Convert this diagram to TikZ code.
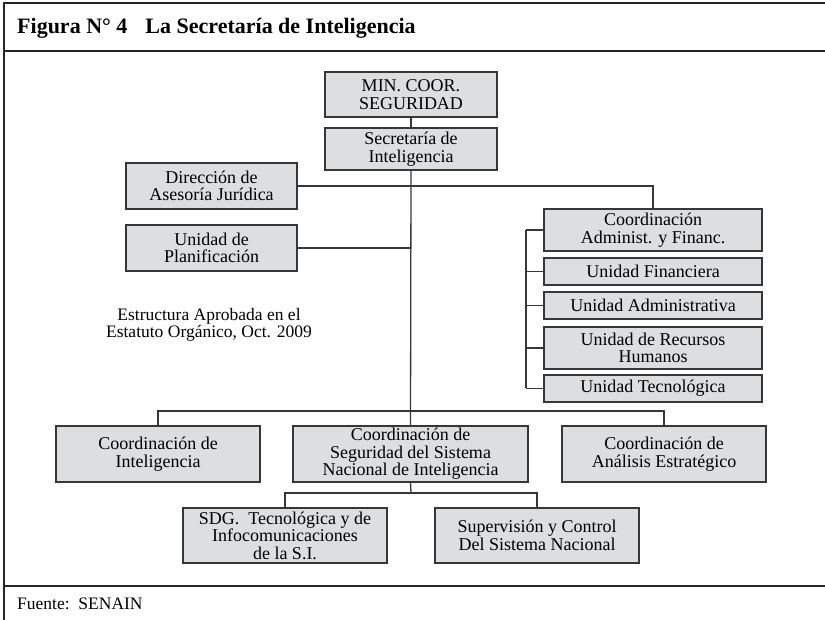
\documentclass[tikz,border=0pt]{standalone}
\usepackage{fontspec}
\setmainfont{Liberation Serif}
\definecolor{boxfill}{RGB}{221,222,224}
\definecolor{linecol}{RGB}{55,55,55}
\tikzset{
  unit/.style={draw=linecol, fill=boxfill, line width=1.3pt, align=center,
    inner sep=0pt, font=\fontsize{18}{17.5}\selectfont},
  link/.style={draw=linecol, line width=1.3pt},
  frame/.style={draw=black!85, line width=1.8pt}
}
\begin{document}
\begin{tikzpicture}[x=1pt,y=-1pt]
      \useasboundingbox (0,0) rectangle (825,620);
      % frame
      \draw[frame] (825,3) -- (4,3) -- (4,620);
      \draw[frame] (4,51) -- (825,51);
      \draw[frame] (4,586) -- (825,586);
      \node[anchor=base west, inner sep=0pt, font=\bfseries\fontsize{22}{22}\selectfont] (title) at (17,34)
        {Figura N° 4\hspace{18pt}La Secretaría de Inteligencia};
      \node[anchor=base west, inner sep=0pt, font=\fontsize{17.5}{17.5}\selectfont] (fuente) at (17,609)
        {Fuente:\ \ SENAIN};
      % units
      \node[unit, minimum width=172, minimum height=45] (min) at (411,94.5) {MIN. COOR.\\SEGURIDAD};
      \node[unit, minimum width=172, minimum height=42] (sec) at (411,149) {Secretaría de\\Inteligencia};
      \node[unit, minimum width=171, minimum height=46] (daj) at (211.5,186) {Dirección de\\Asesoría Jurídica};
      \node[unit, minimum width=171, minimum height=46] (plan) at (211.5,248) {Unidad de\\Planificación};
      \node[unit, minimum width=218, minimum height=42] (caf) at (653,230) {Coordinación\\Administ. y Financ.};
      \node[unit, minimum width=218, minimum height=27] (ufin) at (653,271.5) {Unidad Financiera};
      \node[unit, minimum width=218, minimum height=27] (uadm) at (653,305.5) {Unidad Administrativa};
      \node[unit, minimum width=218, minimum height=42] (urh) at (653,348) {Unidad de Recursos\\Humanos};
      \node[unit, minimum width=218, minimum height=27] (utec) at (653,388.5) {Unidad Tecnológica};
      \node[unit, minimum width=204, minimum height=56] (cint) at (158,454) {Coordinación de\\Inteligencia};
      \node[unit, minimum width=235, minimum height=56] (cseg) at (410.5,454) {Coordinación de\\Seguridad del Sistema\\Nacional de Inteligencia};
      \node[unit, minimum width=204, minimum height=56] (cae) at (664,454) {Coordinación de\\Análisis Estratégico};
      \node[unit, minimum width=204, minimum height=55] (sdg) at (285,535.5) {SDG.\ \ Tecnológica y de\\Infocomunicaciones\\de la S.I.};
      \node[unit, minimum width=204, minimum height=55] (sup) at (537,535.5) {Supervisión y Control\\Del Sistema Nacional};
      \node[align=center, inner sep=0pt, font=\fontsize{17.5}{17}\selectfont] (nota) at (209,325)
        {Estructura Aprobada en el\\Estatuto Orgánico, Oct. 2009};
      \coordinate (brk) at (526,232);
      \coordinate (bus) at (411,411);
      \coordinate (bus2) at (411,493);
      \begin{scope}[link]
        \draw (min) to (sec);
        \draw (sec.south) to (cseg.north);
        \draw (daj.east) -| (caf.north);
        \draw (plan.east) to (plan.east -| sec.south);
        \draw (caf.west -| brk) to (utec.west -| brk);
        \foreach \u in {caf,ufin,uadm,urh,utec}
          \draw (\u.west) to (\u.west -| brk);
        \draw (cint.north) |- (bus) -| (cae.north);
        \draw (cseg.south) to (bus2);
        \draw (sdg.north) |- (bus2) -| (sup.north);
      \end{scope}
    \end{tikzpicture}
\end{document}
